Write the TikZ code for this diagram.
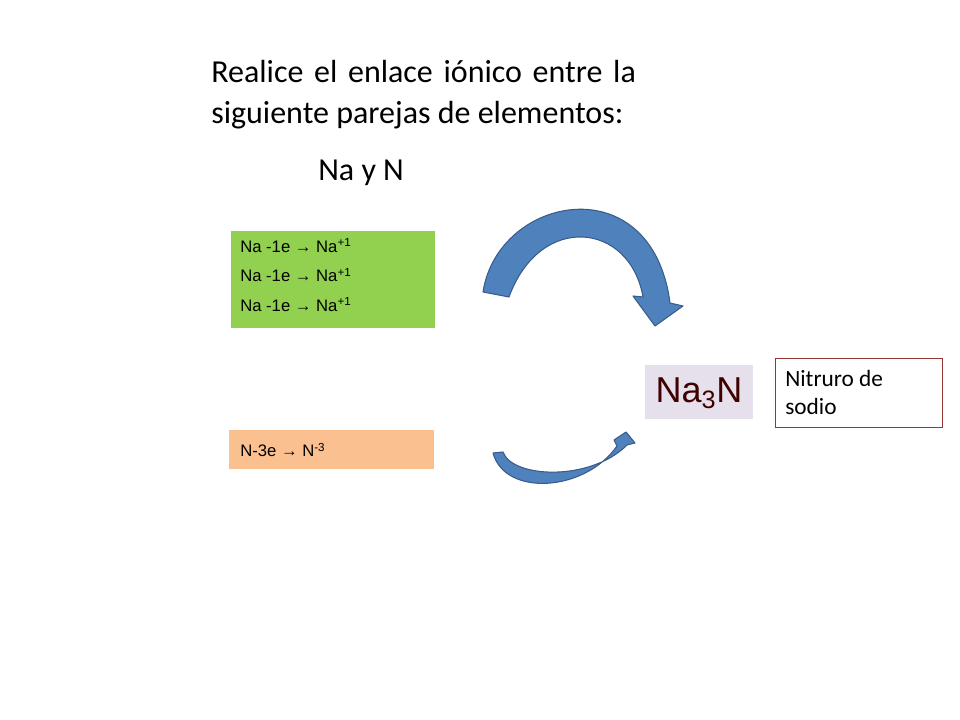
\documentclass[tikz,border=0pt]{standalone}
\usepackage{fontspec}
\setmainfont{Carlito}
\newfontfamily\arialf{Liberation Sans}
\definecolor{gbox}{HTML}{92D050}
\definecolor{obox}{HTML}{FAC090}
\definecolor{pbox}{HTML}{E6E0EC}
\definecolor{dred}{HTML}{3F0000}
\definecolor{bred}{HTML}{943634}
\definecolor{afill}{HTML}{4F81BD}
\definecolor{aline}{HTML}{385D8A}
\tikzset{eqbox/.style={anchor=west,inner sep=0pt,align=left,font=\arialf\fontsize{12.5}{22}\selectfont},
 titletxt/.style={anchor=west,inner sep=0pt,font=\fontsize{24}{28}\selectfont},
 blockarrow/.style={fill=afill,draw=aline,line width=0.8pt,line join=round}}
\begin{document}
\begin{tikzpicture}[x=0.75pt,y=-0.75pt]
\useasboundingbox (0,0) rectangle (960,720);
\node[titletxt,text width=344.25pt] (t1) at (211,72) {\makebox[\linewidth][s]{Realice el enlace iónico entre la}};
\node[titletxt] (t2) at (211,115) {siguiente parejas de elementos:};
\node[titletxt] (t3) at (318,173) {Na y N};
\fill[gbox] (231,231) rectangle (435,328);
\node[eqbox] (g) at (240,275) {Na -1e → Na\textsuperscript{+1}\\Na -1e → Na\textsuperscript{+1}\\Na -1e → Na\textsuperscript{+1}};
\fill[obox] (229,430) rectangle (434,469);
\node[eqbox] (o) at (240,450) {N-3e → N\textsuperscript{-3}};
\fill[pbox] (645,365) rectangle (753,419);
\node[inner sep=0pt,text=dred,font=\arialf\fontsize{27}{30}\selectfont] (na) at (699,393) {Na\textsubscript{3}N};
\draw[bred,line width=0.6pt] (775,358) rectangle (942,427);
\node[anchor=west,inner sep=0pt,align=left,font=\fontsize{17.5}{21}\selectfont] (nit) at (785,392) {Nitruro de\\sodio};
\path[blockarrow] (483,292) .. controls (498,195) and (652,165) .. (670,303) -- (683,306) -- (655,326) -- (633,296) -- (643,297) .. controls (630,222) and (540,212) .. (509,297) -- cycle;
\path[blockarrow] (493,453) .. controls (505,497) and (585,492) .. (617,446) -- (614,440) -- (626,432) -- (635,443) -- (627,445) .. controls (590,482) and (512,478) .. (503,452) -- cycle;
\end{tikzpicture}
\end{document}
